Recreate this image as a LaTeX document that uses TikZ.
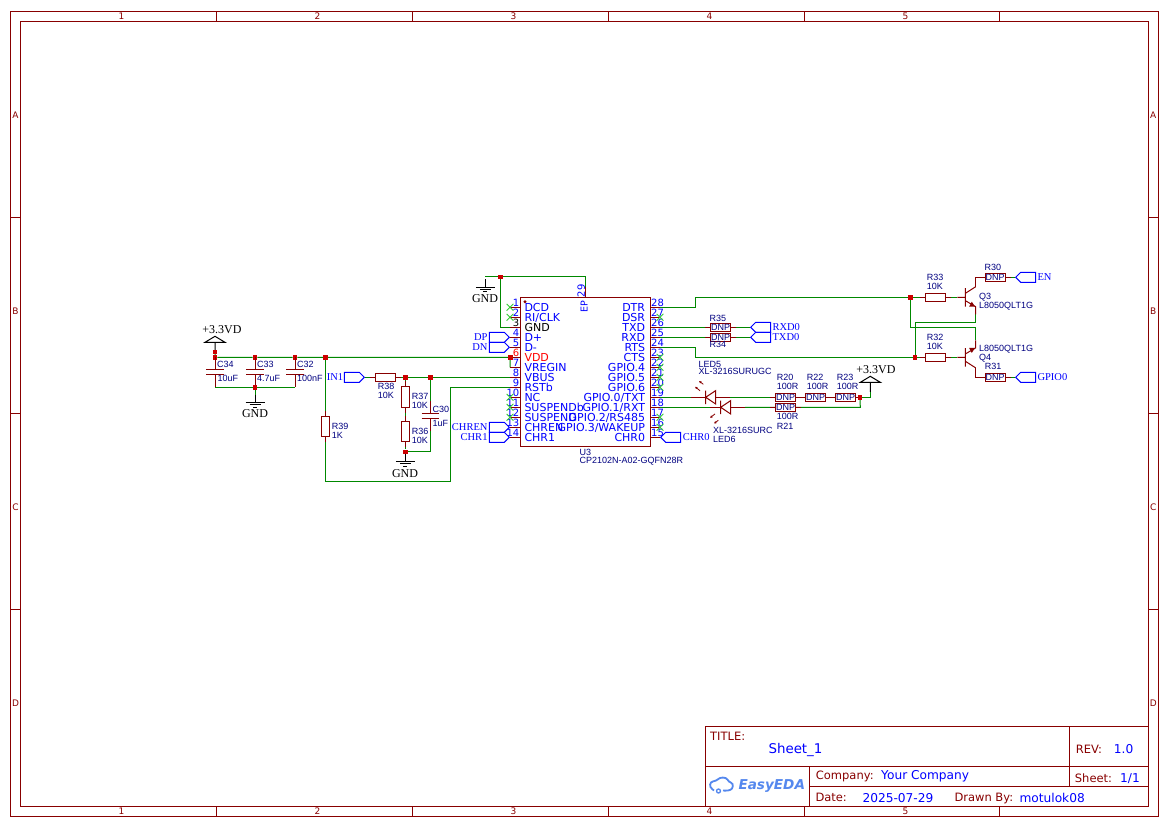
\documentclass[tikz,border=0pt]{standalone}
\usepackage{fontspec}
\setmainfont{Liberation Serif}
\setsansfont{Liberation Sans}
\newfontfamily\verdfont{DejaVu Sans}
\usepackage{tikz}
\usetikzlibrary{shapes.misc, shapes.symbols, arrows.meta}
\pgfdeclarelayer{bg}
\pgfsetlayers{bg,main}
\definecolor{schred}{HTML}{880000}
\definecolor{schgreen}{HTML}{008800}
\definecolor{juncred}{HTML}{CC0000}
\definecolor{schnavy}{HTML}{000080}
\definecolor{schblue}{HTML}{0000FF}
\definecolor{ncgreen}{HTML}{33CC33}
\definecolor{logoblue}{HTML}{5588EE}
\tikzset{
	wire/.style={draw=schgreen, line width=1pt},
	lead/.style={draw=schred, line width=1pt},
	stem/.style={draw=black, line width=1pt},
	frameline/.style={draw=schred, line width=1pt},
	junc/.style={rectangle, fill=juncred, minimum size=4.4pt, inner sep=0},
	ncmark/.style={cross out, draw=ncgreen, line width=.8pt, minimum size=6pt, inner sep=0},
	res/.style={rectangle, draw=schred, line width=1pt, inner sep=0, minimum width=20.4pt, minimum height=8pt,
		text=schnavy, font=\sffamily\fontsize{9}{9}\selectfont,
		append after command={(\tikzlastnode.west) edge[lead] +(-5,0) (\tikzlastnode.east) edge[lead] +(5,0)}},
	vres/.style={rectangle, draw=schred, line width=1pt, inner sep=0, minimum width=8pt, minimum height=20.2pt,
		append after command={(\tikzlastnode.north) edge[lead] +(0,-5) (\tikzlastnode.south) edge[lead] +(0,5)}},
	capa/.style={rectangle, inner sep=0, minimum width=17pt, minimum height=4pt,
		append after command={(\tikzlastnode.north west) edge[lead] (\tikzlastnode.north east)
			(\tikzlastnode.south west) edge[lead] (\tikzlastnode.south east)
			(\tikzlastnode.north) edge[lead] +(0,-13) (\tikzlastnode.south) edge[lead] +(0,13)}},
	flagr/.style={signal, draw=schblue, line width=1pt, inner sep=0, signal pointer angle=90, signal to=east,
		signal from=nowhere, minimum height=10pt, minimum width=20pt, anchor=east},
	flagl/.style={flagr, signal to=west, anchor=west},
	refdes/.style={anchor=west, inner sep=0, text=schnavy, text height=6.5pt, text depth=0pt,
		font=\sffamily\fontsize{9}{9}\selectfont},
	pinname/.style={inner sep=0, text=schblue, text height=8pt, text depth=0pt,
		font=\verdfont\fontsize{11}{11}\selectfont},
	pinnum/.style={inner sep=0, text=schblue, text height=7.5pt, text depth=0pt,
		font=\verdfont\fontsize{10}{10}\selectfont},
	netlab/.style={anchor=west, inner sep=0, text=schblue, text height=7pt, text depth=0pt,
		font=\rmfamily\fontsize{10.5}{10.5}\selectfont},
	powlab/.style={inner sep=0, text=black, text height=8pt, text depth=0pt,
		font=\rmfamily\fontsize{12}{12}\selectfont},
	framelab/.style={inner sep=0, text=schred, font=\verdfont\fontsize{9}{9}\selectfont},
	titlelab/.style={anchor=west, inner sep=0, text=schred, text height=8.5pt, text depth=0pt,
		font=\verdfont\fontsize{11.5}{11.5}\selectfont},
	titleval/.style={anchor=west, inner sep=0, text=schblue, text height=9pt, text depth=0pt,
		font=\verdfont\fontsize{12.2}{12.2}\selectfont},
	gndsym/.pic={
		\draw[stem] (0,-8) -- (0,0) (-9.5,0) -- (9.5,0) (-5.5,2.2) -- (5.5,2.2) (-2,4.4) -- (2,4.4);
	},
	powsym/.pic={
		\draw[stem] (-10,0) -- (0,-6) -- (10,0) -- cycle (0,0) -- (0,9.5);
	},
	ledsym/.pic={
		\draw[lead, fill=white] (0,-6.7) -- (0,6.7) (0,0) -- (10,-6.7) -- (10,6.7) -- cycle;
		\draw[lead, line width=.8pt, -{Latex[length=2.4pt,width=2.8pt]}] (-5.7,-6.6) -- (-10.7,-10.6);
		\draw[lead, line width=.8pt, -{Latex[length=2.4pt,width=2.8pt]}] (-2.4,-13) -- (-6.7,-16.3);
	},
	qsym/.pic={
		\draw[lead] (-8,0) -- (0,0) (0,-9.3) -- (0,9.3) (0,-4) -- (10.3,-10.6) (0,3.4) -- (10.3,9.4) -- (10.3,17);
		\fill[schred] (3.7,9.4) -- (9.7,9.4) -- (6.4,4.4) -- cycle;
	},
}
\begin{document}
\begin{tikzpicture}[x=1pt, y=-1pt]
	\useasboundingbox (0,0) rectangle (1171,827);
	
	% sheet frame
	\draw[frameline] (10.3,11.3) rectangle (1158.3,816.3);
	\draw[frameline] (20.3,21.3) rectangle (1148.3,806);
	\foreach \tick in {216.3,412.3,608.3,804.7,999.3} {
		\draw[frameline] (\tick,11.3) -- (\tick,21.3);
		\draw[frameline] (\tick,806) -- (\tick,816.3);
	}
	\foreach \tick in {217,413,609} {
		\draw[frameline] (10.3,\tick) -- (20.3,\tick);
		\draw[frameline] (1148.3,\tick) -- (1158.3,\tick);
	}
	\foreach \lbl/\xpos in {1/121.5,2/317.5,3/513.5,4/709.5,5/905.5} {
		\node[framelab] (top\lbl) at (\xpos,16.5) {\lbl};
		\node[framelab] (bot\lbl) at (\xpos,811) {\lbl};
	}
	\foreach \lbl/\ypos in {A/115.5,B/311.5,C/507.5,D/703.5} {
		\node[framelab] (left\lbl) at (15.5,\ypos) {\lbl};
		\node[framelab] (right\lbl) at (1153.3,\ypos) {\lbl};
	}
	
	% title block
	\draw[frameline, fill=white] (705.3,726.3) rectangle (1148.3,806);
	\draw[frameline] (705.3,766.3) -- (1148.3,766.3);
	\draw[frameline] (1069.3,726.3) -- (1069.3,786.3);
	\draw[frameline] (809.3,766.3) -- (809.3,806);
	\draw[frameline] (809.3,786.3) -- (1148.3,786.3);
	\node[titlelab] (titleKey) at (710,736) {TITLE:};
	\node[titleval, font=\verdfont\fontsize{13.4}{13.4}\selectfont] (titleVal) at (768.3,748.7) {Sheet\_1};
	\node[titlelab] (revKey) at (1075.7,749) {REV:};
	\node[titleval] (revVal) at (1113.7,749) {1.0};
	\node[titlelab] (companyKey) at (815.7,775.7) {Company:};
	\node[titleval] (companyVal) at (881,775.3) {Your Company};
	\node[titlelab] (sheetKey) at (1074.7,778.3) {Sheet:};
	\node[titleval] (sheetVal) at (1120,778.3) {1/1};
	\node[titlelab] (dateKey) at (815.3,797.7) {Date:};
	\node[titleval] (dateVal) at (862.3,797.7) {2025-07-29};
	\node[titlelab] (drawnKey) at (954.3,797.7) {Drawn By:};
	\node[titleval] (drawnVal) at (1019.3,797.7) {motulok08};
	
	% logo
	\draw[draw=logoblue, line width=1.8pt] plot[smooth, tension=0.7] coordinates {
		(714,790.5) (710.5,787) (711,782.5) (716,780.5) (720,778) (725.5,778) (729,781.5) (732.5,784) (732,788.5) (728,790.5) (723,790.5)
	};
	\draw[draw=logoblue, line width=1.3pt] (718.5,791) circle (2pt);
	\node[anchor=west, inner sep=0, text=logoblue, font=\verdfont\bfseries\itshape\fontsize{13.6}{13.6}\selectfont] (logoText) at (738.3,786.5) {EasyEDA};
	
	% chip U3
	\draw[lead] (520.3,297.3) rectangle (650,446);
	\fill[schred] (525,301.7) circle (1.6pt);
	\foreach \n/\lbl/\ypos/\col in {1/DCD/307.3/schblue, 2/RI\slash CLK/317.3/schblue, 3/GND/327.3/black, 4/D+/337.3/schblue,
		5/D-/347.3/schblue, 6/VDD/357.3/red, 7/VREGIN/367.3/schblue, 8/VBUS/377.3/schblue, 9/RSTb/387.3/schblue,
		10/NC/397.3/schblue, 11/SUSPENDb/407.3/schblue, 12/SUSPEND/417.3/schblue, 13/CHREN/427.3/schblue, 14/CHR1/437.3/schblue} {
		\coordinate (p\n) at (510,\ypos);
		\draw[lead] (510,\ypos) -- (520.3,\ypos);
		\node[pinname, anchor=west, text=\col] (name\n) at (524.3,\ypos) {\lbl};
		\node[pinnum, anchor=east, text=\col] (num\n) at (519.5,\ypos-4.7) {\n};
	}
	\foreach \n/\lbl/\ypos in {28/DTR/307.3, 27/DSR/317.3, 26/TXD/327.3, 25/RXD/337.3, 24/RTS/347.3, 23/CTS/357.3, 22/GPIO.4/367.3,
		21/GPIO.5/377.3, 20/GPIO.6/387.3, 19/GPIO.0\slash TXT/397.3, 18/GPIO.1\slash RXT/407.3, 17/GPIO.2\slash RS485/417.3,
		16/GPIO.3\slash WAKEUP/427.3, 15/CHR0/437.3} {
		\coordinate (p\n) at (660,\ypos);
		\draw[lead] (650,\ypos) -- (660,\ypos);
		\node[pinname, anchor=east] (name\n) at (645.3,\ypos) {\lbl};
		\node[pinnum, anchor=west] (num\n) at (651,\ypos-4.7) {\n};
	}
	\foreach \n in {1,2,10,11,12,27,23,22,21,20,17,16} {
		\node[ncmark] (nc\n) at (p\n) {};
	}
	\coordinate (p29) at (585.3,287.3);
	\draw[lead] (p29) -- (585.3,297.3);
	\node[pinnum, rotate=90] (num29) at (581,290.7) {29};
	\node[pinname, rotate=90, font=\verdfont\fontsize{9.5}{9.5}\selectfont] (nameEP) at (583.7,306.7) {EP};
	\node[refdes] (U3) at (579.3,452.3) {U3};
	\node[refdes] (U3val) at (579.3,460.7) {CP2102N-A02-GQFN28R};
	
	% power rail and decoupling
	\pic at (215,342.3) {powsym};
	\node[powlab] (powA) at (222,329) {+3.3VD};
	\node[junc] (jPwr) at (215,351.7) {};
	\node[junc] (j34) at (215,357.3) {};
	\node[junc] (j33) at (255,357.3) {};
	\node[junc] (j32) at (295,357.3) {};
	\node[junc] (jR39) at (325.3,357.3) {};
	\node[junc] (j6) at (510.3,357.3) {};
	\node[capa] (C34) at (215,372) {};
	\node[capa] (C33) at (255,372) {};
	\node[capa] (C32) at (295,372) {};
	\node[junc] (jCaps) at (255,387.3) {};
	\coordinate (cb34) at (215,387.3);
	\coordinate (cb32) at (295,387.3);
	\pic at (255,402.7) {gndsym};
	\coordinate (gndA) at (255,402.7);
	\node[powlab] (gndTextA) at (255,413.5) {GND};
	\node[refdes] (C34lbl) at (217,364.7) {C34};
	\node[refdes] (C34val) at (217.5,378.7) {10uF};
	\node[refdes] (C33lbl) at (257,364.7) {C33};
	\node[refdes] (C33val) at (257,378.7) {4.7uF};
	\node[refdes] (C32lbl) at (297,364.7) {C32};
	\node[refdes] (C32val) at (297,378.7) {100nF};
	
	% input divider
	\node[vres] (R39) at (325.3,426.3) {};
	\node[refdes] (R39lbl) at (331.7,426.7) {R39};
	\node[refdes] (R39val) at (331.7,435.7) {1K};
	\coordinate (k39a) at (325.3,481.3);
	\coordinate (k39b) at (450.3,481.3);
	\coordinate (k39c) at (450.3,387.3);
	\node[flagr] (flagIN) at (365,377.3) {};
	\node[netlab] (IN1) at (326.7,377.3) {IN1};
	\node[res] (R38) at (385.5,377.3) {};
	\node[refdes] (R38lbl) at (377.7,386.3) {R38};
	\node[refdes] (R38val) at (377.7,395.3) {10K};
	\node[junc] (j37) at (405.3,377.3) {};
	\node[junc] (j30) at (430.3,377.3) {};
	\node[vres] (R37) at (405.3,397) {};
	\node[vres] (R36) at (405.3,431.3) {};
	\node[capa] (C30) at (430.3,416) {};
	\coordinate (k30) at (430.3,451.7);
	\node[junc] (jGnd) at (405.3,451.7) {};
	\pic at (405.3,461.7) {gndsym};
	\coordinate (gndB) at (405.3,461.7);
	\node[powlab] (gndTextB) at (405,473.3) {GND};
	\node[refdes] (R37lbl) at (411.7,396.7) {R37};
	\node[refdes] (R37val) at (411.7,405.3) {10K};
	\node[refdes] (R36lbl) at (411.7,431.3) {R36};
	\node[refdes] (R36val) at (411.7,440) {10K};
	\node[refdes] (C30lbl) at (432.3,409.3) {C30};
	\node[refdes] (C30val) at (432.3,423.3) {1uF};
	
	% left side flags and top ground
	\node[junc] (jTop) at (500.3,276.7) {};
	\coordinate (kTop) at (585.3,276.7);
	\coordinate (k3) at (500.3,327.3);
	\coordinate (kGnd) at (485.3,276.7);
	\pic at (485.3,287.3) {gndsym};
	\coordinate (gndC) at (485.3,287.3);
	\node[powlab] (gndTextC) at (485,298.3) {GND};
	\node[flagr] (flagDP) at (p4) {};
	\node[flagr] (flagDN) at (p5) {};
	\node[flagr] (flagCHREN) at (p13) {};
	\node[flagr] (flagCHR1) at (p14) {};
	\node[netlab, anchor=east] (DP) at (487.7,337.3) {DP};
	\node[netlab, anchor=east] (DN) at (487.7,347.3) {DN};
	\node[netlab, anchor=east] (CHREN) at (487.7,427.3) {CHREN};
	\node[netlab, anchor=east] (CHR1) at (487.7,437.3) {CHR1};
	
	% UART resistors
	\node[flagl] (flagCHR0) at (p15) {};
	\node[netlab] (CHR0) at (682.7,437.3) {CHR0};
	\node[res] (R35) at (720.5,327.3) {DNP};
	\node[res] (R34) at (720.5,337.3) {DNP};
	\node[refdes] (R35lbl) at (709.3,318.3) {R35};
	\node[refdes] (R34lbl) at (709.3,344.7) {R34};
	\node[flagl] (flagRXD) at (750,327.3) {};
	\node[flagl] (flagTXD) at (750,337.3) {};
	\node[netlab] (RXD0) at (772.3,327.3) {RXD0};
	\node[netlab] (TXD0) at (772.3,337.3) {TXD0};
	
	% LEDs
	\coordinate (led5in) at (691,397.3);
	\coordinate (led5out) at (730,397.3);
	\coordinate (led6in) at (710,407.3);
	\coordinate (led6out) at (745,407.3);
	\draw[lead] (led5in) -- (led5out);
	\draw[lead] (led6in) -- (led6out);
	\pic at (705.7,397.3) {ledsym};
	\pic[yscale=-1] at (720.7,407.3) {ledsym};
	\node[refdes] (LED5lbl) at (698.3,364) {LED5};
	\node[refdes] (LED5val) at (698.3,371.7) {XL-3216SURUGC};
	\node[refdes] (LED6val) at (713,430.7) {XL-3216SURC};
	\node[refdes] (LED6lbl) at (713,439.3) {LED6};
	\node[res] (R20) at (785.5,397.3) {DNP};
	\node[res] (R22) at (815.5,397.3) {DNP};
	\node[res] (R23) at (845.5,397.3) {DNP};
	\node[res] (R21) at (785.5,407.3) {DNP};
	\node[refdes] (R20lbl) at (776.7,377.7) {R20};
	\node[refdes] (R20val) at (776.7,386.7) {100R};
	\node[refdes] (R22lbl) at (806.7,377.7) {R22};
	\node[refdes] (R22val) at (806.7,386.7) {100R};
	\node[refdes] (R23lbl) at (836.7,377.7) {R23};
	\node[refdes] (R23val) at (836.7,386.7) {100R};
	\node[refdes] (R21val) at (776.7,416.7) {100R};
	\node[refdes] (R21lbl) at (776.7,426.7) {R21};
	\node[junc] (jLed) at (860,397.3) {};
	\coordinate (k21) at (860.3,407.3);
	\coordinate (kPow) at (870.3,397.3);
	\coordinate (powB) at (870.3,382.3);
	\pic at (powB) {powsym};
	\node[powlab] (powBlab) at (876,369) {+3.3VD};
	
	% transistors
	\coordinate (k28a) at (695.3,307.3);
	\coordinate (k28b) at (695.3,297.3);
	\coordinate (k24a) at (695.3,347.3);
	\coordinate (k24b) at (695.3,357.3);
	\node[junc] (jQ3) at (910.3,297.3) {};
	\node[junc] (jQ4) at (915,357.3) {};
	\node[res] (R33) at (935.5,297.3) {};
	\node[res] (R32) at (935.5,357.3) {};
	\pic at (965.4,297.3) {qsym};
	\pic[yscale=-1] at (965.4,357.3) {qsym};
	\coordinate (q3base) at (957.4,297.3);
	\coordinate (q4base) at (957.4,357.3);
	\coordinate (q3top) at (975.7,286.7);
	\coordinate (q4bot) at (975.7,367.9);
	\coordinate (q3bot) at (975.7,314.3);
	\coordinate (q4top) at (975.7,340.3);
	\coordinate (k3a) at (975.7,322.3);
	\coordinate (k3b) at (915,322.3);
	\coordinate (k4a) at (975.7,327.3);
	\coordinate (k4b) at (910.3,327.3);
	\node[res] (R30) at (995.2,277.3) {DNP};
	\node[res] (R31) at (995.2,377.3) {DNP};
	\draw[lead] (q3top) |- (R30);
	\draw[lead] (q4bot) |- (R31);
	\node[flagl] (flagEN) at (1015,277.3) {};
	\node[flagl] (flagGPIO) at (1015,377.3) {};
	\node[netlab] (EN) at (1037.3,277.3) {EN};
	\node[netlab] (GPIO0) at (1037.3,377.3) {GPIO0};
	\node[refdes] (R33lbl) at (926.7,277.7) {R33};
	\node[refdes] (R33val) at (926.7,286.7) {10K};
	\node[refdes] (R32lbl) at (926.7,337.7) {R32};
	\node[refdes] (R32val) at (926.7,346.7) {10K};
	\node[refdes] (R30lbl) at (984.3,267) {R30};
	\node[refdes] (R31lbl) at (984.7,366.7) {R31};
	\node[refdes] (Q3lbl) at (979,296.3) {Q3};
	\node[refdes] (Q3val) at (979,305.7) {L8050QLT1G};
	\node[refdes] (Q4val) at (979,348.3) {L8050QLT1G};
	\node[refdes] (Q4lbl) at (979,357.3) {Q4};
	
	% all wires under the symbols
	\begin{pgfonlayer}{bg}
		\draw[wire] (jPwr) -- (j34) -- (j33) -- (j32) -- (jR39) -- (j6) -- (p7);
		\draw[wire] (cb34) -- (jCaps) -- (cb32);
		\draw[wire] (jCaps) -- (gndA);
		\draw[wire] (jR39) -- (R39) -- (k39a) -- (k39b) -- (k39c) -- (p9);
		\draw[wire] (flagIN.east) -- (R38) -- (j37) -- (j30) -- (p8);
		\draw[wire] (j37) -- (R37) -- (R36) -- (jGnd) -- (gndB);
		\draw[wire] (j30) -- (C30);
		\draw[wire] (C30) -- (k30) -- (jGnd);
		\draw[wire] (kGnd) -- (jTop) -- (kTop) -- (p29);
		\draw[wire] (jTop) -- (k3) -- (p3);
		\draw[wire] (p26) -- (R35) -- (flagRXD.west);
		\draw[wire] (p25) -- (R34) -- (flagTXD.west);
		\draw[wire] (p19) -- (led5in);
		\draw[wire] (p18) -- (led6in);
		\draw[wire] (led5out) -- (R20) -- (R22) -- (R23) -- (jLed) -- (kPow) -- (powB);
		\draw[wire] (led6out) -- (R21) -- (k21) -- (jLed);
		\draw[wire] (p28) -- (k28a) -- (k28b) -- (jQ3) -- (R33) -- (q3base);
		\draw[wire] (p24) -- (k24a) -- (k24b) -- (jQ4) -- (R32) -- (q4base);
		\draw[wire] (q3bot) -- (k3a) -- (k3b) -- (jQ4);
		\draw[wire] (q4top) -- (k4a) -- (k4b) -- (jQ3);
		\draw[wire] (R30) -- (flagEN.west);
		\draw[wire] (R31) -- (flagGPIO.west);
	\end{pgfonlayer}
\end{tikzpicture}
\end{document}
